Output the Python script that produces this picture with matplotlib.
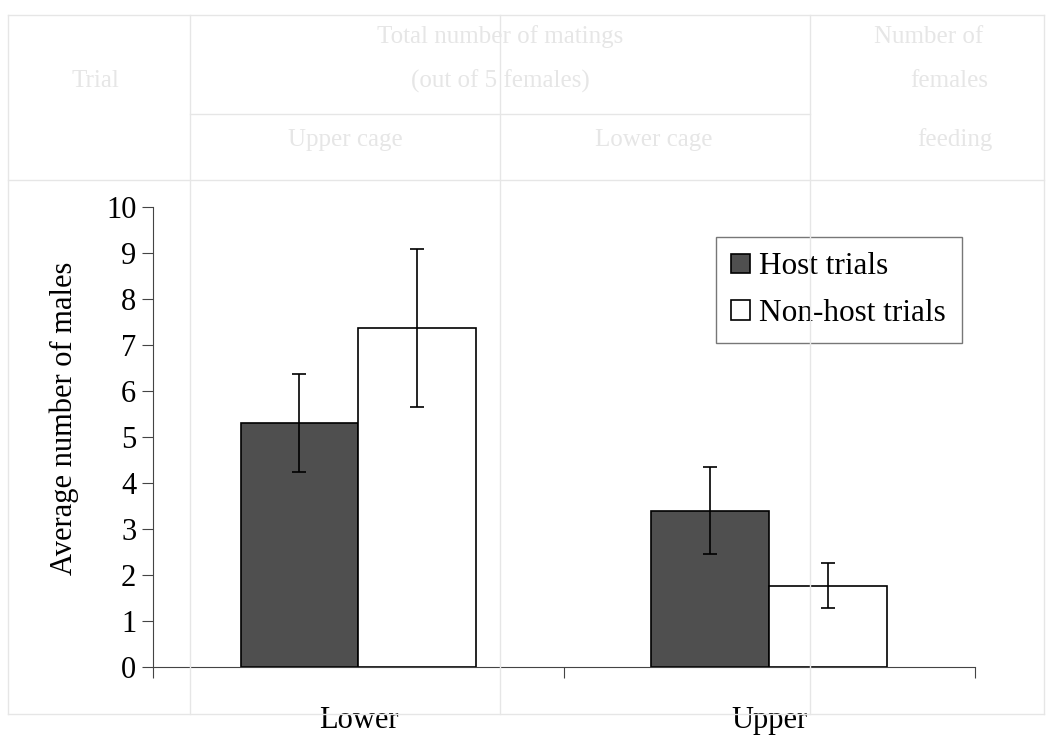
import numpy as np
import matplotlib.pyplot as plt

# данные
categories = ['Lower', 'Upper']
host_mean = [5.30, 3.40]
host_err = [1.06, 0.95]
nonhost_mean = [7.37, 1.77]
nonhost_err = [1.72, 0.48]
series_labels = ['Host trials', 'Non-host trials']

plt.rcParams['font.family'] = ['Liberation Serif', 'DejaVu Serif']

fig = plt.figure(figsize=(10.55, 7.36), dpi=100)

# бледная таблица, просвечивающая со скана
faint = '#e6e6e6'
for xv in [0.008, 0.18, 0.474, 0.768, 0.99]:
    fig.add_artist(plt.Line2D([xv, xv], [0.03, 0.98], color=faint, lw=1))
for yv in [0.98, 0.755, 0.03]:
    fig.add_artist(plt.Line2D([0.008, 0.99], [yv, yv], color=faint, lw=1))
fig.add_artist(plt.Line2D([0.18, 0.768], [0.845, 0.845], color=faint, lw=1))
header = [
    ('Total number of matings', 0.474, 0.95),
    ('Number of', 0.88, 0.95),
    ('Trial', 0.09, 0.89),
    ('(out of 5 females)', 0.474, 0.89),
    ('females', 0.9, 0.89),
    ('Upper cage', 0.327, 0.81),
    ('Lower cage', 0.62, 0.81),
    ('feeding', 0.905, 0.81),
]
for txt, xt, yt in header:
    fig.text(xt, yt, txt, color=faint, fontsize=18, ha='center', va='center')

ax = fig.add_axes([0.145, 0.0938, 0.779, 0.625])
ax.patch.set_alpha(0)

x = np.arange(len(categories))
w = 0.287
ax.bar(x - w / 2, host_mean, w, color='#4f4f4f', edgecolor='black', lw=1.2,
       label=series_labels[0])
ax.bar(x + w / 2, nonhost_mean, w, color='white', edgecolor='black', lw=1.2,
       label=series_labels[1])
ax.errorbar(x - w / 2, host_mean, yerr=host_err, fmt='none', ecolor='black',
            elinewidth=1.2, capsize=5, capthick=1.2)
ax.errorbar(x + w / 2, nonhost_mean, yerr=nonhost_err, fmt='none', ecolor='black',
            elinewidth=1.2, capsize=5, capthick=1.2)

ax.set_xlim(-0.5, 1.5)
ax.set_ylim(0, 10)
ax.set_yticks(range(0, 11))
ax.set_xticks([-0.5, 0.5, 1.5])
ax.set_xticklabels([])
ax.set_xticks(x, minor=True)
ax.set_xticklabels(categories, minor=True)
ax.tick_params(axis='x', which='minor', length=0, pad=28, labelsize=22)
ax.tick_params(axis='x', which='major', direction='out', length=8, color='#444')
ax.tick_params(axis='y', direction='out', length=8, labelsize=22, pad=4, color='#444')
for s in ['top', 'right']:
    ax.spines[s].set_visible(False)
ax.spines['left'].set_color('#444')
ax.spines['bottom'].set_color('#444')

ax.set_ylabel('Average number of males', fontsize=22)
ax.yaxis.set_label_coords(-0.09, 0.54)

leg = ax.legend(loc='upper right', bbox_to_anchor=(0.984, 0.935), borderaxespad=0,
                fontsize=22.5, frameon=True, fancybox=False, edgecolor='#555',
                handlelength=0.6, handleheight=0.6, handletextpad=0.3,
                borderpad=0.5, labelspacing=0.55)
leg.get_frame().set_linewidth(1)

fig.savefig('out.png', dpi=100)
